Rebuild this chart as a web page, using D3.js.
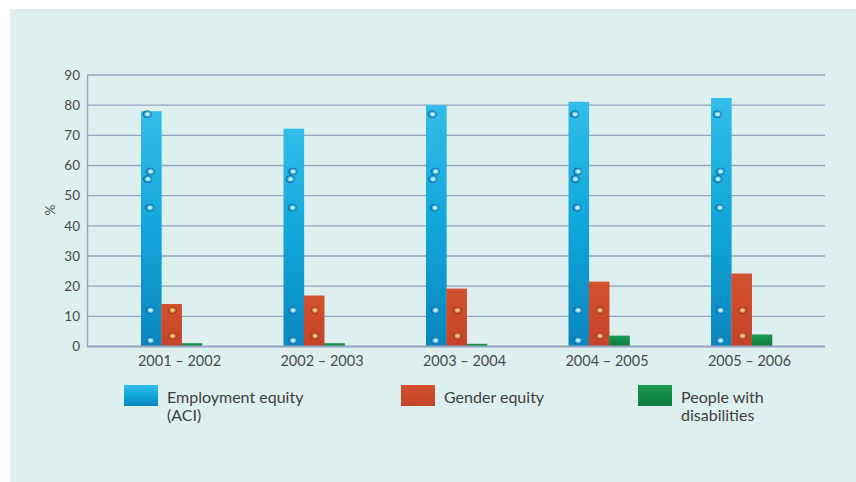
<!DOCTYPE html>
<html>
<head>
<meta charset="utf-8">
<script src="https://cdn.jsdelivr.net/npm/d3@7"></script>
<style>
  html, body { margin: 0; padding: 0; background: #ffffff; }
  svg { display: block; font-family: Lato, "Open Sans", sans-serif; }
</style>
</head>
<body>
<svg id="chart" width="856" height="482"></svg>
<script>
// Share of staff per equity group, by financial year (%)
const periods = ["2001 – 2002", "2002 – 2003", "2003 – 2004", "2004 – 2005", "2005 – 2006"];
const seriesNames = ["Employment equity (ACI)", "Gender equity", "People with disabilities"];
const employmentEquity = [78, 72.2, 80, 81.1, 82.4];
const genderEquity = [14.1, 16.9, 19.2, 21.5, 24.2];
const disabilities = [1.1, 1.1, 0.9, 3.6, 4.0];
const yTicks = [0, 10, 20, 30, 40, 50, 60, 70, 80, 90];
const legendLines = [["Employment equity", "(ACI)"], ["Gender equity"], ["People with", "disabilities"]];
// decorative water-drop texture levels (in % units) on the bars
const dropLevelsBlue = [77, 58, 55.5, 46, 12, 2];
const dropLevelsRed = [12, 3.5];

const seriesValues = [employmentEquity, genderEquity, disabilities];

const svg = d3.select("#chart");
const defs = svg.append("defs");

// panel background
svg.append("rect").attr("x", 10).attr("y", 9).attr("width", 846).attr("height", 473)
  .attr("fill", "#deefef");

// gradients for the bars
const gradSpecs = [
  { id: "gBlue", stops: ["#33bde9", "#10a6da", "#0b86bf"] },
  { id: "gRed", stops: ["#d2512f", "#cc4a2b", "#c4432a"] },
  { id: "gGreen", stops: ["#1a9a52", "#138a46", "#0f7d3f"] }
];
gradSpecs.forEach(g => {
  const lg = defs.append("linearGradient").attr("id", g.id)
    .attr("x1", 0).attr("y1", 0).attr("x2", 0).attr("y2", 1);
  g.stops.forEach((c, i) => lg.append("stop")
    .attr("offset", (i / (g.stops.length - 1) * 100) + "%").attr("stop-color", c));
});
const dropBlue = defs.append("radialGradient").attr("id", "dropBlue")
  .attr("cx", "55%").attr("cy", "50%").attr("r", "55%");
dropBlue.append("stop").attr("offset", "0%").attr("stop-color", "#ffffff");
dropBlue.append("stop").attr("offset", "30%").attr("stop-color", "#bdeeff");
dropBlue.append("stop").attr("offset", "60%").attr("stop-color", "#2a9fd6");
dropBlue.append("stop").attr("offset", "85%").attr("stop-color", "#0a5f94");
dropBlue.append("stop").attr("offset", "100%").attr("stop-color", "#0b6fa6").attr("stop-opacity", 0.2);
const dropRed = defs.append("radialGradient").attr("id", "dropRed")
  .attr("cx", "50%").attr("cy", "50%").attr("r", "55%");
dropRed.append("stop").attr("offset", "0%").attr("stop-color", "#fff3c8");
dropRed.append("stop").attr("offset", "35%").attr("stop-color", "#f5b35a");
dropRed.append("stop").attr("offset", "75%").attr("stop-color", "#9d3219");
dropRed.append("stop").attr("offset", "100%").attr("stop-color", "#c4452a").attr("stop-opacity", 0.2);

const plotLeft = 87, plotRight = 825;
const y = d3.scaleLinear().domain([0, 90]).range([346.5, 75]);

const x0 = d3.scaleBand().domain(periods).range([107.75, 820.25]).padding(0);
const x1 = d3.scaleBand().domain(seriesNames).range([-38, 23]).padding(0);
const center = p => x0(p) + x0.bandwidth() / 2;

// gridlines
svg.append("g").selectAll("line").data(yTicks.filter(t => t > 0)).join("line")
  .attr("x1", plotLeft).attr("x2", plotRight)
  .attr("y1", d => y(d)).attr("y2", d => y(d))
  .attr("stroke", "#93a4c0").attr("stroke-width", 1.4);

// y axis
const yAxis = svg.append("g").attr("transform", `translate(${plotLeft},0)`)
  .call(d3.axisLeft(y).tickValues(yTicks).tickSize(0).tickPadding(7));
yAxis.select(".domain").attr("stroke", "#93a4c0").attr("stroke-width", 1.4);
yAxis.selectAll("text").attr("fill", "#4a4a4a").attr("font-size", 13.5)
  .attr("font-family", "Lato, 'Open Sans', sans-serif");

svg.append("text").attr("transform", "translate(55,210) rotate(-90)")
  .attr("text-anchor", "middle").attr("fill", "#4a4a4a").attr("font-size", 13.5)
  .text("%");

// bars
const fills = ["url(#gBlue)", "url(#gRed)", "url(#gGreen)"];
const barData = [];
periods.forEach((p, i) => seriesNames.forEach((s, j) =>
  barData.push({ p, s, j, v: seriesValues[j][i] })));

const bars = svg.append("g");
bars.selectAll("rect").data(barData).join("rect")
  .attr("x", d => center(d.p) + x1(d.s))
  .attr("width", x1.bandwidth() + 0.3)
  .attr("y", d => y(d.v))
  .attr("height", d => y(0) - y(d.v))
  .attr("fill", (d) => fills[d.j]);

// drop texture on blue and red bars
const drops = [];
barData.forEach(d => {
  const levels = d.j === 0 ? dropLevelsBlue : d.j === 1 ? dropLevelsRed : [];
  levels.forEach((lv, k) => {
    if (lv < d.v - 0.6) drops.push({ d, lv, k });
  });
});
const dropX = [0.3, 0.45, 0.32, 0.42, 0.45, 0.45];
svg.append("g").selectAll("ellipse").data(drops).join("ellipse")
  .attr("cx", e => center(e.d.p) + x1(e.d.s) + x1.bandwidth() * (e.d.j === 0 ? dropX[e.k] : 0.55))
  .attr("cy", e => y(e.lv))
  .attr("rx", 4.8).attr("ry", 4)
  .attr("fill", e => e.d.j === 0 ? "url(#dropBlue)" : "url(#dropRed)")
  .attr("opacity", 0.9);

// baseline
svg.append("line").attr("x1", plotLeft).attr("x2", plotRight)
  .attr("y1", y(0)).attr("y2", y(0))
  .attr("stroke", "#93a4c0").attr("stroke-width", 2);

// x axis labels
const xAxis = svg.append("g").attr("transform", `translate(0,${y(0)})`)
  .call(d3.axisBottom(d3.scalePoint().domain(periods).range([center(periods[0]), center(periods[periods.length - 1])]))
    .tickSize(0).tickPadding(9));
xAxis.select(".domain").remove();
xAxis.selectAll("text").attr("fill", "#4a4a4a").attr("font-size", 14.5)
  .attr("font-family", "Lato, 'Open Sans', sans-serif");

// legend
const legendX = d3.scaleOrdinal().domain(seriesNames).range([124, 401, 638]);
const legend = svg.append("g").selectAll("g").data(seriesNames).join("g")
  .attr("transform", d => `translate(${legendX(d)},385)`);
legend.append("rect").attr("width", 34).attr("height", 21)
  .attr("fill", (d, i) => fills[i]);
legend.append("text").attr("x", 43).attr("y", 17.5)
  .attr("fill", "#3e3e3e").attr("font-size", 16)
  .selectAll("tspan").data((d, i) => legendLines[i]).join("tspan")
  .attr("x", 43).attr("dy", (t, k) => k === 0 ? 0 : 18).text(t => t);
</script>
</body>
</html>
